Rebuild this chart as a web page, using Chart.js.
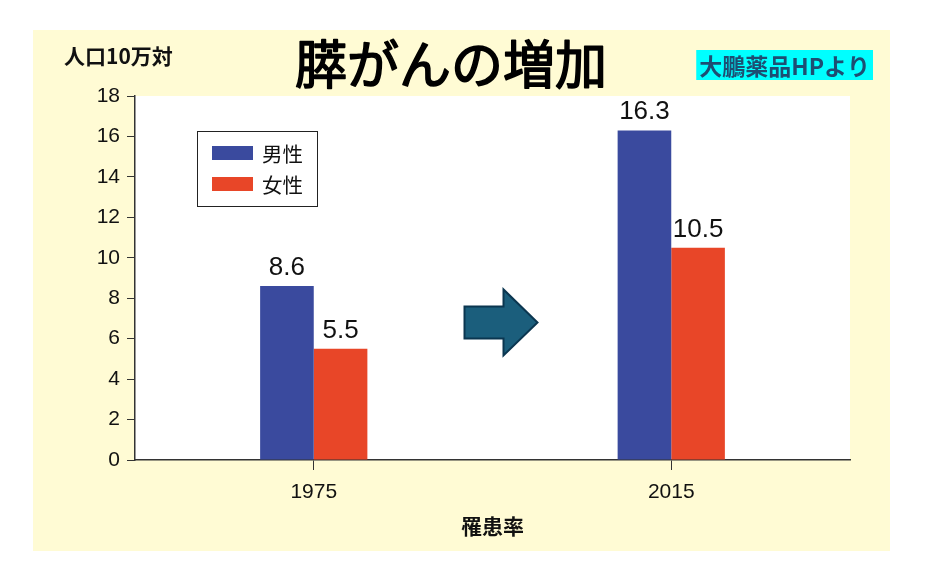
<!DOCTYPE html>
<html>
<head>
<meta charset="utf-8">
<script src="https://cdn.jsdelivr.net/npm/chart.js@4"></script>
<style>
  html, body { margin: 0; padding: 0; background: #ffffff; }
  #wrap { width: 930px; height: 577px; }
</style>
</head>
<body>
<div id="wrap"><canvas id="c" width="930" height="577"></canvas></div>
<script>
const categories = ['1975', '2015'];
const maleValues = [8.6, 16.3];
const femaleValues = [5.5, 10.5];
const seriesLabels = ['男性', '女性'];
const seriesColors = ['#3a4a9e', '#e84628'];
const yMin = 0, yMax = 18, yStep = 2;
const chartTitle = '膵がんの増加';
const unitLabel = '人口10万対';
const sourceLabel = '大鵬薬品HPより';
const xAxisTitle = '罹患率';

const SANS = '"Liberation Sans", Arial, sans-serif';
const CJK = '"Noto Sans CJK JP", "Noto Sans", sans-serif';

const decorPlugin = {
  id: 'decor',
  beforeDraw(chart) {
    const ctx = chart.ctx;
    const a = chart.chartArea;
    ctx.save();
    ctx.fillStyle = '#ffffff';
    ctx.fillRect(0, 0, chart.width, chart.height);
    ctx.fillStyle = '#fffbd4';
    ctx.fillRect(33, 30, 857, 521);
    ctx.fillStyle = '#ffffff';
    ctx.fillRect(a.left, a.top, a.right - a.left, a.bottom - a.top);
    ctx.restore();
  },
  afterDatasetsDraw(chart) {
    const ctx = chart.ctx;
    const a = chart.chartArea;
    const xs = chart.scales.x, ys = chart.scales.y;
    ctx.save();
    // value labels
    ctx.fillStyle = '#111';
    ctx.font = '26px ' + SANS;
    ctx.textAlign = 'center';
    ctx.textBaseline = 'alphabetic';
    chart.data.datasets.forEach((ds, di) => {
      chart.getDatasetMeta(di).data.forEach((bar, i) => {
        ctx.fillText(ds.data[i].toFixed(1), bar.x, bar.y - 11);
      });
    });
    // arrow between categories
    const cx = xs.getPixelForValue(0.5) + 8;
    const cy = ys.getPixelForValue(6.8);
    ctx.beginPath();
    ctx.moveTo(cx - 36, cy - 16);
    ctx.lineTo(cx + 3, cy - 16);
    ctx.lineTo(cx + 3, cy - 33);
    ctx.lineTo(cx + 37, cy);
    ctx.lineTo(cx + 3, cy + 33);
    ctx.lineTo(cx + 3, cy + 16);
    ctx.lineTo(cx - 36, cy + 16);
    ctx.closePath();
    ctx.fillStyle = '#1b5e7c';
    ctx.fill();
    ctx.lineWidth = 2;
    ctx.strokeStyle = '#0b3650';
    ctx.stroke();
    // legend
    const lx = a.left + 62, ly = a.top + 35;
    ctx.fillStyle = '#ffffff';
    ctx.fillRect(lx, ly, 120, 75);
    ctx.lineWidth = 1;
    ctx.strokeStyle = '#222';
    ctx.strokeRect(lx + 0.5, ly + 0.5, 120, 75);
    ctx.font = '20.5px ' + CJK;
    ctx.textAlign = 'left';
    ctx.textBaseline = 'middle';
    chart.data.datasets.forEach((ds, di) => {
      const yy = ly + 22 + di * 31;
      ctx.fillStyle = ds.backgroundColor;
      ctx.fillRect(lx + 15, yy - 7, 41, 14);
      ctx.fillStyle = '#111';
      ctx.fillText(ds.label, lx + 65, yy + 1);
    });
    // title texts (medium weight: regular fill + thin stroke)
    ctx.fillStyle = '#000';
    ctx.strokeStyle = '#000';
    ctx.lineWidth = 1.6;
    ctx.lineJoin = 'round';
    ctx.textAlign = 'center';
    ctx.textBaseline = 'middle';
    ctx.font = '52px ' + CJK;
    ctx.fillText(chartTitle, 451, 64);
    ctx.strokeText(chartTitle, 451, 64);
    ctx.textAlign = 'left';
    ctx.font = 'bold 21px ' + CJK;
    ctx.fillStyle = '#111';
    ctx.fillText(unitLabel, 64, 56);
    // source label
    ctx.font = 'bold 23px ' + CJK;
    const w = ctx.measureText(sourceLabel).width;
    const bx = 873 - w - 6;
    ctx.fillStyle = '#00ffff';
    ctx.fillRect(bx, 50, w + 6, 30);
    ctx.fillStyle = '#1d4e72';
    ctx.fillText(sourceLabel, bx + 3, 66);
    ctx.restore();
  }
};

new Chart(document.getElementById('c'), {
  type: 'bar',
  data: {
    labels: categories,
    datasets: [
      { label: seriesLabels[0], data: maleValues, backgroundColor: seriesColors[0], borderWidth: 0 },
      { label: seriesLabels[1], data: femaleValues, backgroundColor: seriesColors[1], borderWidth: 0 }
    ]
  },
  options: {
    responsive: false,
    animation: false,
    devicePixelRatio: 1,
    categoryPercentage: 0.3,
    barPercentage: 1.0,
    layout: { padding: { left: 0, top: 96, right: 80, bottom: 0 } },
    plugins: { legend: { display: false }, tooltip: { enabled: false } },
    scales: {
      x: {
        grid: { display: true, drawOnChartArea: false, offset: false, tickLength: 10, tickColor: '#333' },
        border: { display: true, color: '#333', width: 1.5 },
        ticks: { color: '#111', font: { family: SANS, size: 21 }, padding: 10 },
        title: { display: true, text: xAxisTitle, color: '#111', font: { family: CJK, size: 21, weight: 'bold' }, padding: { top: 38, bottom: 38 } },
        afterFit(s) { s.height = 117; }
      },
      y: {
        min: yMin, max: yMax,
        grid: { display: true, drawOnChartArea: false, tickLength: 8, tickColor: '#333' },
        border: { display: true, color: '#333', width: 1.5 },
        ticks: { stepSize: yStep, color: '#111', font: { family: SANS, size: 21 }, padding: 7 },
        afterFit(s) { s.width = 135; }
      }
    }
  },
  plugins: [decorPlugin]
});
</script>
</body>
</html>
